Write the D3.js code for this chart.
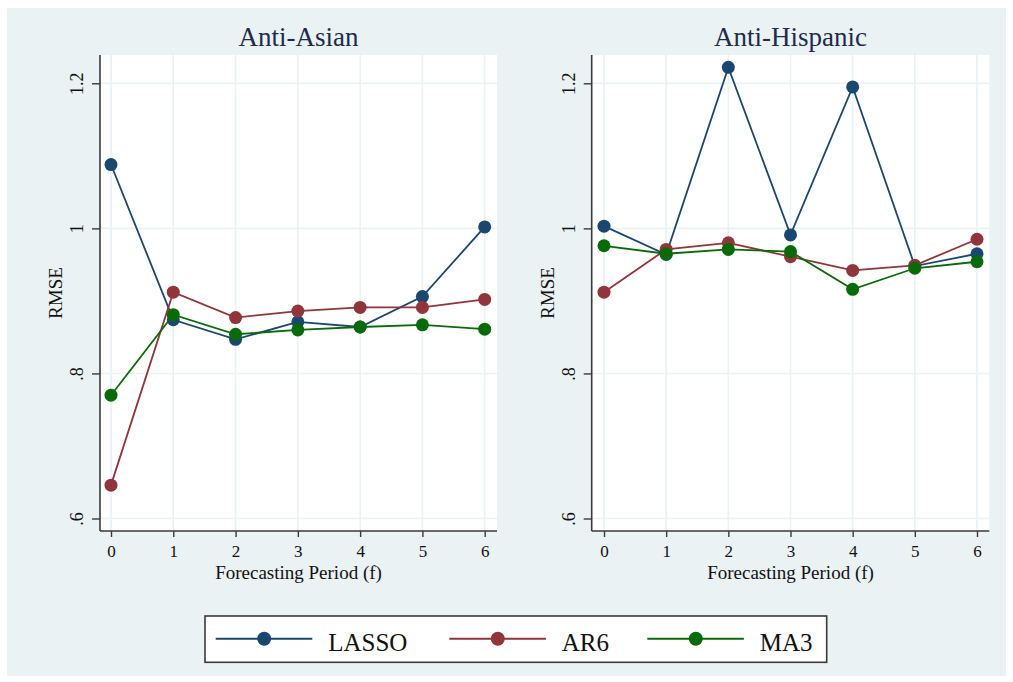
<!DOCTYPE html>
<html>
<head>
<meta charset="utf-8">
<script src="https://cdn.jsdelivr.net/npm/d3@7/dist/d3.min.js"></script>
<style>
  html, body { margin: 0; padding: 0; background: #ffffff; }
  svg { display: block; }
  text { font-family: "Liberation Serif", "Times New Roman", serif; }
</style>
</head>
<body>
<svg id="chart" width="1013" height="682"></svg>
<script>
// ---- data ----
const periods = [0, 1, 2, 3, 4, 5, 6];
const yTicks = [0.6, 0.8, 1.0, 1.2];
const yTickLabels = [".6", ".8", "1", "1.2"];
const panelTitles = ["Anti-Asian", "Anti-Hispanic"];
const seriesNames = ["LASSO", "AR6", "MA3"];

const asianLASSO = [1.088, 0.874, 0.847, 0.871, 0.864, 0.906, 1.002];
const asianAR6   = [0.646, 0.912, 0.877, 0.886, 0.891, 0.891, 0.902];
const asianMA3   = [0.770, 0.881, 0.854, 0.860, 0.864, 0.867, 0.861];

const hispLASSO = [1.003, 0.964, 1.222, 0.991, 1.195, 0.948, 0.965];
const hispAR6   = [0.912, 0.971, 0.980, 0.961, 0.942, 0.949, 0.985];
const hispMA3   = [0.976, 0.965, 0.971, 0.968, 0.916, 0.945, 0.954];

// ---- style ----
const colors = ["#1a476f", "#90353b", "#086a08"];
const bgColor = "#eaf2f3";
const gridColor = "#eaf2f3";
const axisColor = "#3a3a3a";

const svg = d3.select("#chart");

// outer background
svg.append("rect").attr("x", 7).attr("y", 8).attr("width", 999).attr("height", 668)
  .attr("fill", bgColor);

const panels = [
  { title: panelTitles[0], data: [asianLASSO, asianAR6, asianMA3],
    left: 100, right: 497, top: 55, bottom: 531, x0: 111, x6: 484.7 },
  { title: panelTitles[1], data: [hispLASSO, hispAR6, hispMA3],
    left: 591.7, right: 989.3, top: 55, bottom: 531, x0: 604, x6: 977 }
];

panels.forEach(p => {
  const x = d3.scaleLinear().domain([0, 6]).range([p.x0, p.x6]);
  const y = d3.scaleLinear().domain([0.6, 1.2]).range([518.5, 83.3]);
  const g = svg.append("g");

  // plot region
  g.append("rect").attr("x", p.left).attr("y", p.top)
    .attr("width", p.right - p.left).attr("height", p.bottom - p.top)
    .attr("fill", "#ffffff");

  // grid
  g.selectAll(".vg").data(periods).enter().append("line")
    .attr("x1", d => x(d)).attr("x2", d => x(d))
    .attr("y1", p.top).attr("y2", p.bottom)
    .attr("stroke", gridColor).attr("stroke-width", 1.6);
  g.selectAll(".hg").data(yTicks).enter().append("line")
    .attr("x1", p.left).attr("x2", p.right)
    .attr("y1", d => y(d)).attr("y2", d => y(d))
    .attr("stroke", gridColor).attr("stroke-width", 1.6);

  // x axis
  const xAxis = d3.axisBottom(x).tickValues(periods).tickSize(6).tickPadding(8)
    .tickFormat(d3.format("d"));
  const xg = g.append("g").attr("transform", `translate(0,${p.bottom})`).call(xAxis);
  xg.select(".domain").attr("d", `M${p.left},0H${p.right}`)
    .attr("stroke", axisColor).attr("stroke-width", 1.6);
  xg.selectAll(".tick line").attr("stroke", axisColor).attr("stroke-width", 1.4);
  xg.selectAll(".tick text").attr("font-size", 17).attr("fill", "#111")
    .attr("font-family", "Liberation Serif");

  // y axis
  const yAxis = d3.axisLeft(y).tickValues(yTicks).tickSize(8).tickPadding(4)
    .tickFormat((d, i) => yTickLabels[i]);
  const yg = g.append("g").attr("transform", `translate(${p.left},0)`).call(yAxis);
  yg.select(".domain").attr("d", `M0,${p.top}V${p.bottom}`)
    .attr("stroke", axisColor).attr("stroke-width", 1.6);
  yg.selectAll(".tick line").attr("stroke", axisColor).attr("stroke-width", 1.4);
  yg.selectAll(".tick text")
    .attr("font-size", 18).attr("fill", "#111").attr("font-family", "Liberation Serif")
    .attr("x", null).attr("dy", null)
    .attr("text-anchor", "middle")
    .attr("transform", "translate(-17,0) rotate(-90)");

  // axis titles
  g.append("text").attr("x", (p.left + p.right) / 2).attr("y", 579)
    .attr("text-anchor", "middle").attr("font-size", 19).attr("fill", "#111")
    .text("Forecasting Period (f)");
  g.append("text")
    .attr("transform", `translate(${p.left - 38},${(p.top + p.bottom) / 2}) rotate(-90)`)
    .attr("text-anchor", "middle").attr("font-size", 19).attr("fill", "#111")
    .text("RMSE");

  // panel title
  g.append("text").attr("x", (p.left + p.right) / 2).attr("y", 46)
    .attr("text-anchor", "middle").attr("font-size", 27).attr("fill", "#1e2b4d")
    .text(p.title);

  // series
  const line = d3.line().x((d, i) => x(periods[i])).y(d => y(d));
  p.data.forEach((vals, si) => {
    g.append("path").datum(vals).attr("d", line)
      .attr("fill", "none").attr("stroke", colors[si]).attr("stroke-width", 1.8);
  });
  p.data.forEach((vals, si) => {
    g.selectAll(".pt" + si).data(vals).enter().append("circle")
      .attr("cx", (d, i) => x(periods[i])).attr("cy", d => y(d))
      .attr("r", 6.5).attr("fill", colors[si]);
  });
});

// legend
const lg = svg.append("g");
lg.append("rect").attr("x", 205).attr("y", 616).attr("width", 621.7).attr("height", 46.3)
  .attr("fill", "#ffffff").attr("stroke", "#3a3a3a").attr("stroke-width", 1.6);
const legendX = [215.7, 449.3, 647.3];
seriesNames.forEach((name, i) => {
  const lx = legendX[i];
  lg.append("line").attr("x1", lx).attr("x2", lx + 96.6).attr("y1", 638.7).attr("y2", 638.7)
    .attr("stroke", colors[i]).attr("stroke-width", 2);
  lg.append("circle").attr("cx", lx + 48.5).attr("cy", 638.7).attr("r", 7).attr("fill", colors[i]);
  lg.append("text").attr("x", lx + 112.5).attr("y", 650.5).attr("font-size", 25).attr("fill", "#111")
    .text(name);
});
</script>
</body>
</html>
